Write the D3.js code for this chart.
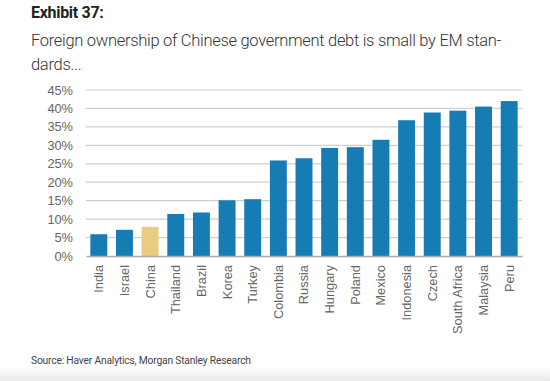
<!DOCTYPE html>
<html>
<head>
<meta charset="utf-8">
<script src="https://cdn.jsdelivr.net/npm/d3@7"></script>
<style>
  body { margin: 0; background: #fff; }
  svg { display: block; }
</style>
</head>
<body>
<div id="viz"></div>
<script>
var countries = ["India", "Israel", "China", "Thailand", "Brazil", "Korea", "Turkey", "Colombia", "Russia",
  "Hungary", "Poland", "Mexico", "Indonesia", "Czech", "South Africa", "Malaysia", "Peru"];
var shares = [5.9, 7.1, 7.9, 11.4, 11.8, 15.1, 15.4, 25.9, 26.5, 29.3, 29.5, 31.5, 36.8, 38.9, 39.4, 40.5, 42.0];
var yTicks = [0, 5, 10, 15, 20, 25, 30, 35, 40, 45];
var highlight = "China";

var width = 550, height = 381;
var margin = { top: 90, right: 28, bottom: 125, left: 86 },
  w = width - margin.left - margin.right,
  h = height - margin.top - margin.bottom;

var svg = d3.select("#viz").append("svg")
  .attr("width", width)
  .attr("height", height);

// faint shadow at the bottom of the page
var grad = svg.append("defs").append("linearGradient")
  .attr("id", "fade")
  .attr("x1", 0).attr("y1", 0).attr("x2", 0).attr("y2", 1);
grad.append("stop").attr("offset", "0%").attr("stop-color", "#fff");
grad.append("stop").attr("offset", "100%").attr("stop-color", "#e9e9e9");
svg.append("rect")
  .attr("x", 0).attr("y", 366)
  .attr("width", width).attr("height", 15)
  .attr("fill", "url(#fade)");

// titles
svg.append("text")
  .attr("x", 31).attr("y", 17.5)
  .style("font-family", "Roboto")
  .style("font-weight", "bold")
  .style("font-size", "16px")
  .style("letter-spacing", "-0.3px")
  .style("fill", "#222")
  .text("Exhibit 37:");

var sub = svg.append("text")
  .style("font-family", "Roboto")
  .style("font-weight", 300)
  .style("font-size", "16.5px")
  .style("letter-spacing", "-0.3px")
  .style("fill", "#333");
sub.append("tspan").attr("x", 31).attr("y", 45.5)
  .text("Foreign ownership of Chinese government debt is small by EM stan-");
sub.append("tspan").attr("x", 31).attr("y", 70)
  .text("dards...");

svg.append("text")
  .attr("x", 31).attr("y", 364)
  .style("font-family", "Roboto")
  .style("font-size", "10.3px")
  .style("letter-spacing", "-0.2px")
  .style("fill", "#444")
  .text("Source: Haver Analytics, Morgan Stanley Research");

var g = svg.append("g")
  .attr("transform", "translate(" + margin.left + "," + margin.top + ")");

var x = d3.scaleBand().domain(countries).range([0, w]).paddingInner(0.34).paddingOuter(0.17);
var y = d3.scaleLinear().domain([0, 45]).range([h, 0]);

// gridlines
g.selectAll(".grid")
  .data(yTicks.filter(function (d) { return d > 0; }))
  .enter().append("line")
  .attr("class", "grid")
  .attr("x1", 0).attr("x2", w)
  .attr("y1", function (d) { return y(d); })
  .attr("y2", function (d) { return y(d); })
  .attr("stroke", "#cfcfcf")
  .attr("stroke-width", 1.2);

// y axis labels
var yAxis = d3.axisLeft(y).tickValues(yTicks)
  .tickFormat(function (d) { return d + "%"; })
  .tickSize(0).tickPadding(13);
var ya = g.append("g").call(yAxis);
ya.select(".domain").remove();
ya.selectAll("text")
  .style("font-family", "Liberation Sans, Arial")
  .style("font-size", "12.8px")
  .style("fill", "#666");

// bars
g.selectAll(".bar")
  .data(countries)
  .enter().append("rect")
  .attr("class", "bar")
  .attr("x", function (d) { return x(d); })
  .attr("width", x.bandwidth())
  .attr("y", function (d, i) { return y(shares[i]); })
  .attr("height", function (d, i) { return h - y(shares[i]); })
  .attr("fill", function (d) { return d == highlight ? "#ebcb80" : "#157db4"; });

// x axis
var xAxis = d3.axisBottom(x).tickSize(0).tickPadding(0);
var xa = g.append("g")
  .attr("transform", "translate(0," + h + ")")
  .call(xAxis);
xa.select(".domain").attr("stroke", "#aaa").attr("stroke-width", 1.5);
xa.selectAll("text")
  .attr("transform", "rotate(-90)")
  .attr("x", -9)
  .attr("y", 0)
  .attr("dy", "0.35em")
  .style("text-anchor", "end")
  .style("font-family", "Liberation Sans, Arial")
  .style("font-size", "12.8px")
  .style("fill", "#666");
</script>
</body>
</html>
